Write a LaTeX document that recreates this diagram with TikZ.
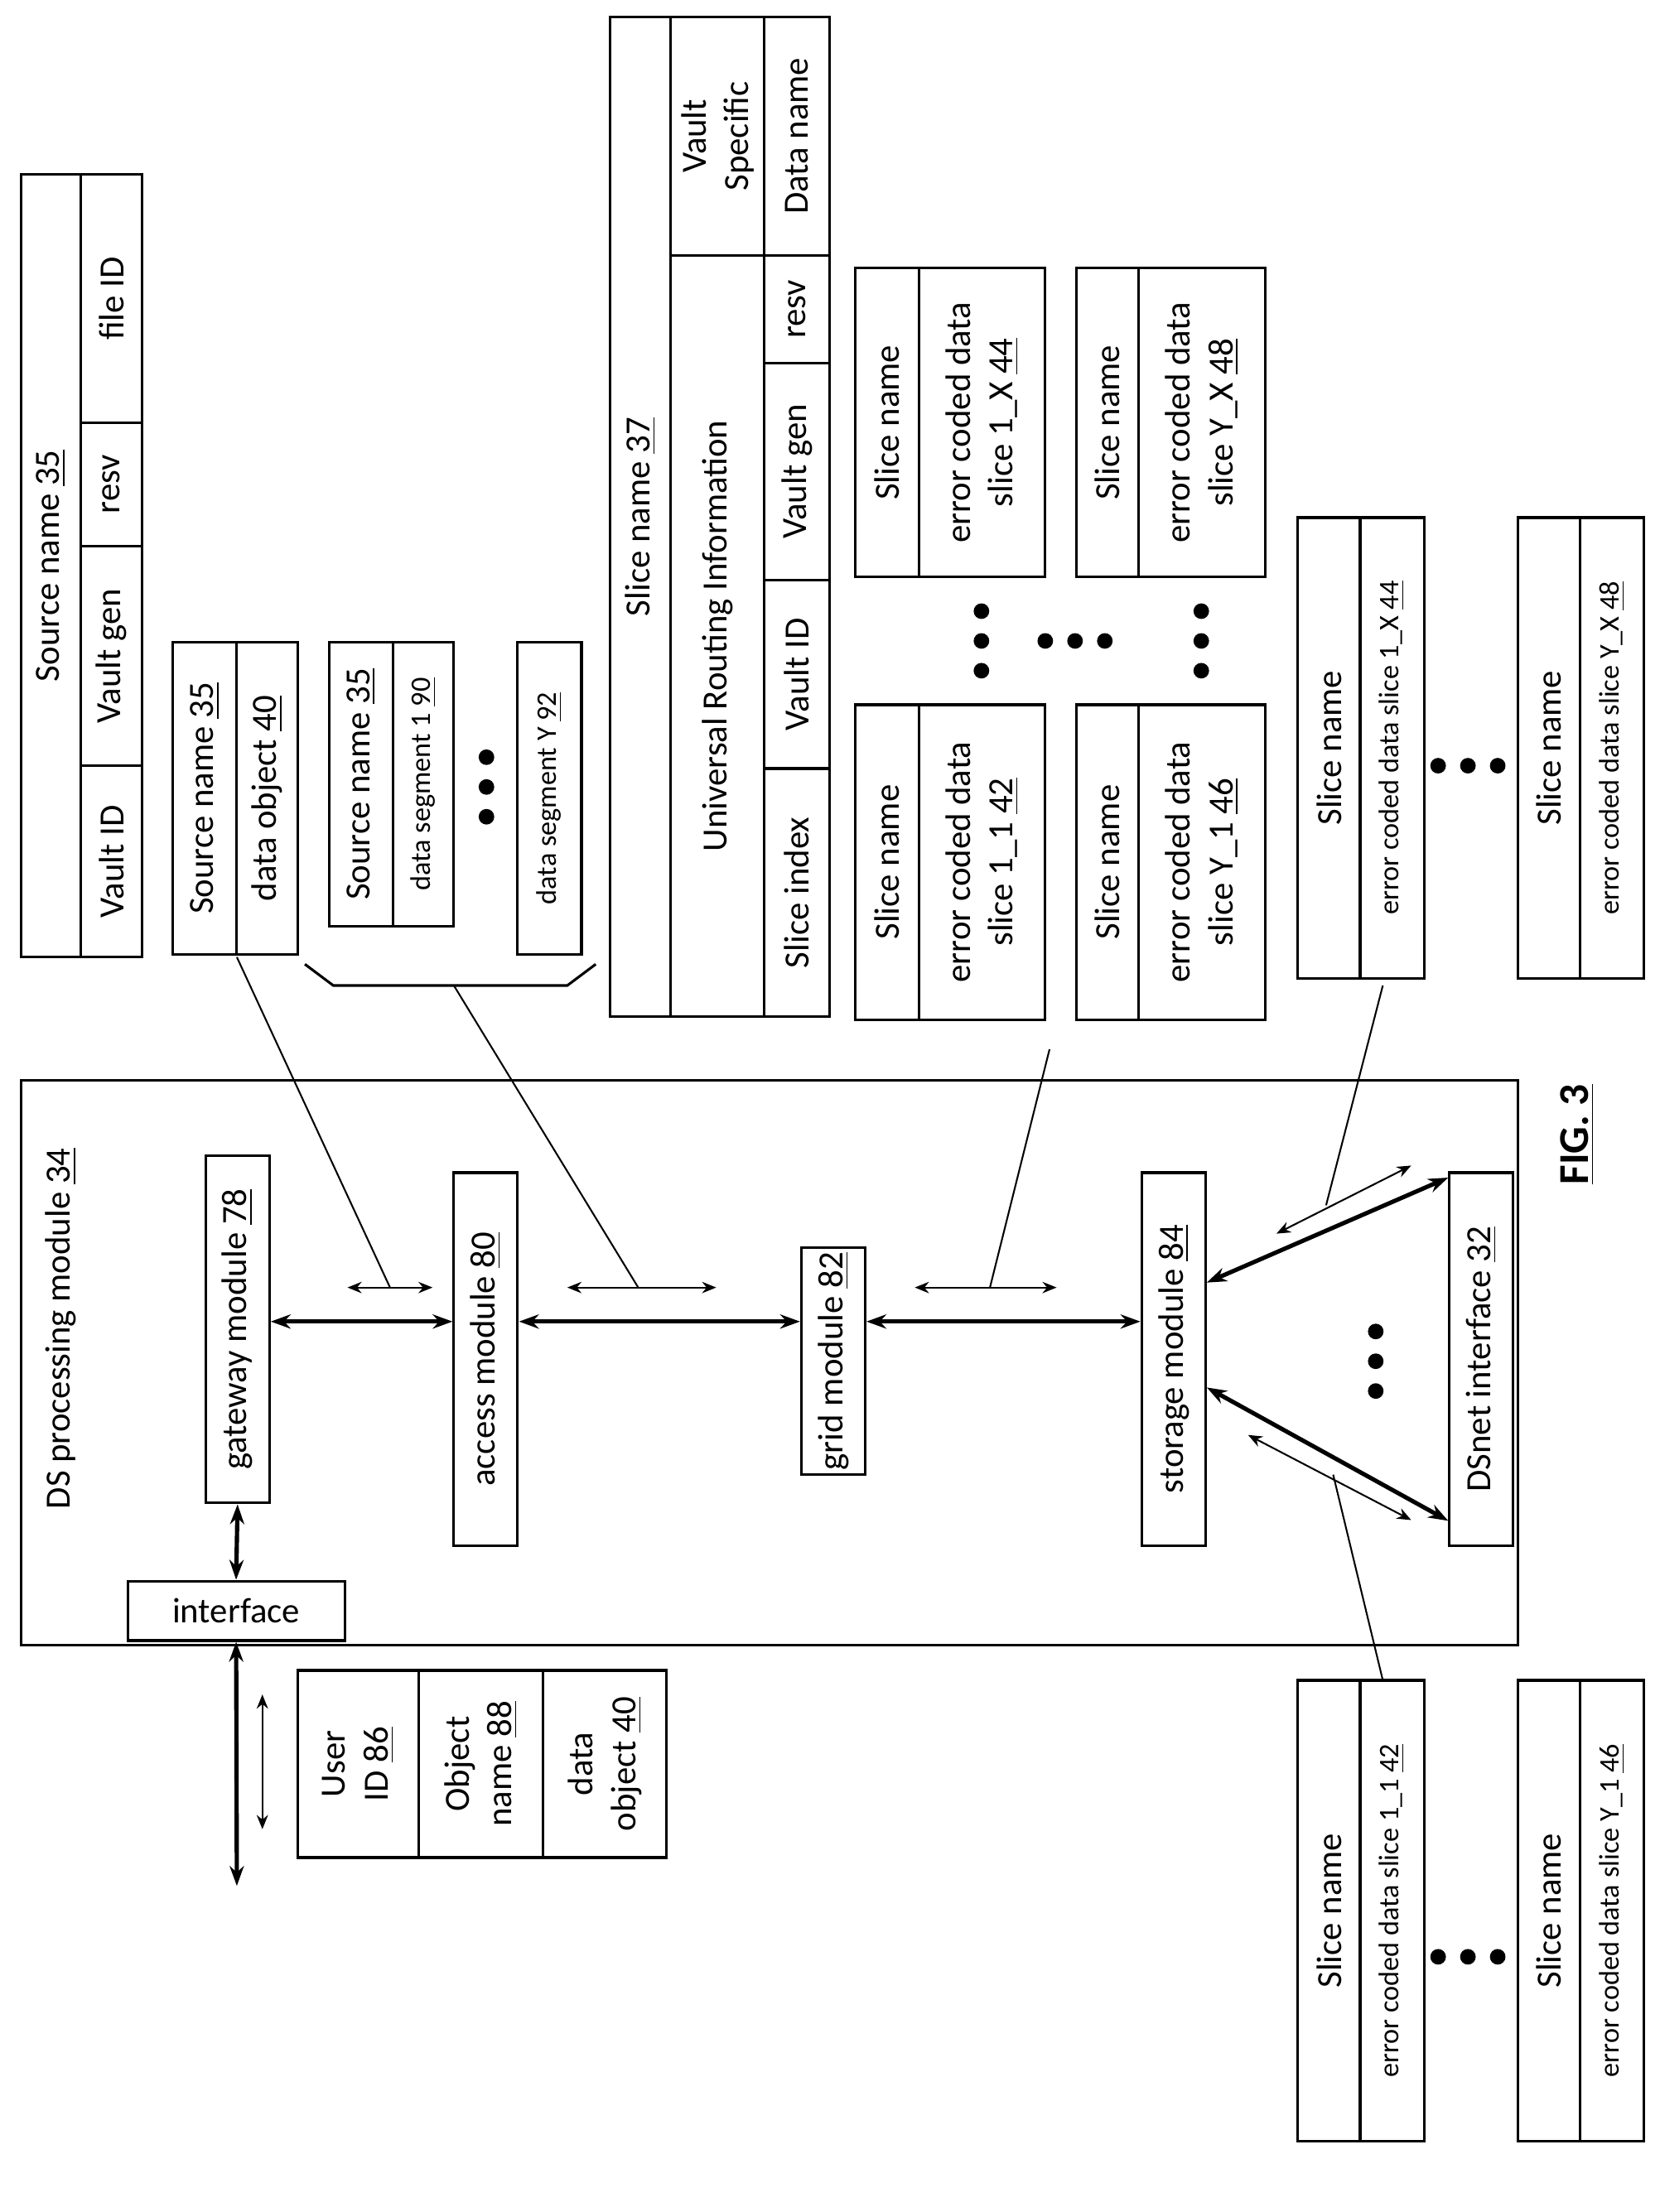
\documentclass[tikz,border=0pt]{standalone}
\usepackage{fontspec}
\setmainfont{Carlito}
\usetikzlibrary{arrows.meta}
\newcommand{\cell}[5]{\draw (#1,#2) rectangle (#3,#4); \node[txt] at ({(#1+#3)/2},{(#2+#4)/2}) {#5};}
\newcommand{\sml}{\fontsize{10}{12}\selectfont}
\newcommand{\dotz}[3]{\foreach \k in {-1,0,1} {\fill (#1+#3*\k*21,#2+\k*21-#3*\k*21) circle (5.5);}}

\begin{document}
\begin{tikzpicture}[x=0.5pt,y=-0.5pt,line width=0.9pt,
  txt/.style={rotate=90,align=center,font=\fontsize{12.5}{15}\selectfont},
  mod/.style={draw,rotate=90,minimum height=22.5pt,inner sep=1pt,font=\fontsize{12.5}{15}\selectfont},
  big/.style={{Stealth[length=7pt,width=5pt]}-{Stealth[length=7pt,width=5pt]},line width=1.5pt},
  small/.style={{Stealth[length=5pt,width=4pt]}-{Stealth[length=5pt,width=4pt]},line width=0.6pt}]
\useasboundingbox (0,0) rectangle (1170,1560);
%\draw[help lines,step=100](0,0)grid(1170,1560);
% source name
\cell{15}{123}{57}{675}{Source name \underline{35}}
\cell{57}{123}{100}{298}{file ID}
\cell{57}{298}{100}{385}{resv}
\cell{57}{385}{100}{540}{Vault gen}
\cell{57}{540}{100}{675}{Vault ID}
% data object and segments
\cell{122}{453}{167}{673}{Source name \underline{35}}
\cell{167}{453}{210}{673}{data object \underline{40}}
\cell{232}{453}{277}{653}{Source name \underline{35}}
\cell{277}{453}{320}{653}{\sml data segment 1 \underline{90}}
\cell{365}{453}{410}{673}{\sml data segment Y \underline{92}}
\dotz{343}{555}{0}
\draw (215,680)--(235,695)--(400,695)--(420,680);
% slice name 37
\draw (430,12) rectangle (585,717);
\node[txt] at (451.5,364.5) {Slice name \underline{37}};
\cell{473}{12}{539}{180}{Vault\\Specific}
\cell{473}{180}{539}{717}{Universal Routing Information}
\cell{539}{12}{585}{180}{Data name}
\cell{539}{180}{585}{256}{resv}
\cell{539}{256}{585}{409}{Vault gen}
\cell{539}{409}{585}{542}{Vault ID}
\cell{539}{542}{585}{717}{Slice index}
% encoded slices
\foreach \xa/\xb/\xc/\ya/\yb/\lbl in {603/648/737/497/719/1\_1 \underline{42},603/648/737/189/407/1\_X \underline{44},
  759/803/892/497/719/Y\_1 \underline{46},759/803/892/189/407/Y\_X \underline{48}}{
  \cell{\xa}{\ya}{\xb}{\yb}{Slice name}
  \cell{\xb}{\ya}{\xc}{\yb}{error coded data\\slice \lbl}
}
\dotz{692}{452}{0}
\dotz{758}{452}{1}
\dotz{847}{452}{0}
% outgoing slices
\foreach \xa/\ya/\lbl in {915/365/1\_X \underline{44},1070/365/Y\_X \underline{48},915/1185/1\_1 \underline{42},1070/1185/Y\_1 \underline{46}}{
  \cell{\xa}{\ya}{\xa+44}{\ya+325}{Slice name}
  \cell{\xa+44}{\ya}{\xa+89}{\ya+325}{\sml error coded data slice \lbl}
}
\dotz{1035}{540}{1}
\dotz{1035}{1380}{1}
% DS processing module
\draw (15,762) rectangle (1070,1160);
\node[txt] at (43,937) {DS processing module \underline{34}};
\node[mod,minimum width=122.5pt] (gw) at (167.5,937.5) {gateway module \underline{78}};
\node[mod,minimum width=131.5pt] (acc) at (342.5,958.5) {access module \underline{80}};
\node[mod,minimum width=80pt] (grid) at (587.5,960) {grid module \underline{82}};
\node[mod,minimum width=131.5pt] (sto) at (827.5,958.5) {storage module \underline{84}};
\node[mod,minimum width=131.5pt] (dsn) at (1044.5,958.5) {DSnet interface \underline{32}};
\node[draw,minimum width=76.5pt,minimum height=21pt,inner sep=1pt,font=\fontsize{12.5}{15}\selectfont] (ifc) at (166.5,1136) {interface};
\dotz{970}{960}{0}
\coordinate (row) at (0,932);
\coordinate (usr) at (167,1330);
\draw[big] (gw.south |- row) -- (acc.north |- row);
\draw[big] (acc.south |- row) -- (grid.north |- row);
\draw[big] (grid.south |- row) -- (sto.north |- row);
\draw[big] ([yshift=27pt]sto.south) -- ([yshift=64pt]dsn.north);
\draw[big] ([yshift=-10pt]sto.south) -- ([yshift=-57pt]dsn.north);
\draw[big] (gw.west) -- (ifc.north);
\draw[big] (ifc.south) -- (usr);
% data flows
\draw[small] (245,908) -- (305,908);
\draw[small] (400,908) -- (505,908);
\draw[small] (645,908) -- (745,908);
\draw[small] (900,870) -- (995,822);
\draw[small] (880,1012) -- (995,1072);
\draw[small] (185,1195) -- (185,1290);
\draw[line width=0.6pt] (167,675) -- (275,908) (320,695) -- (450,908) (740,740) -- (698,908)
  (975,695) -- (935,850) (940,1040) -- (975,1185);
% user request
\cell{210}{1178}{295}{1310}{User\\ID \underline{86}}
\cell{295}{1178}{383}{1310}{Object\\name \underline{88}}
\cell{383}{1178}{470}{1310}{data\\object \underline{40}}
\node[txt,font=\bfseries\fontsize{15}{18}\selectfont] at (1112,800) {\underline{FIG. 3}};
\end{tikzpicture}
\end{document}
